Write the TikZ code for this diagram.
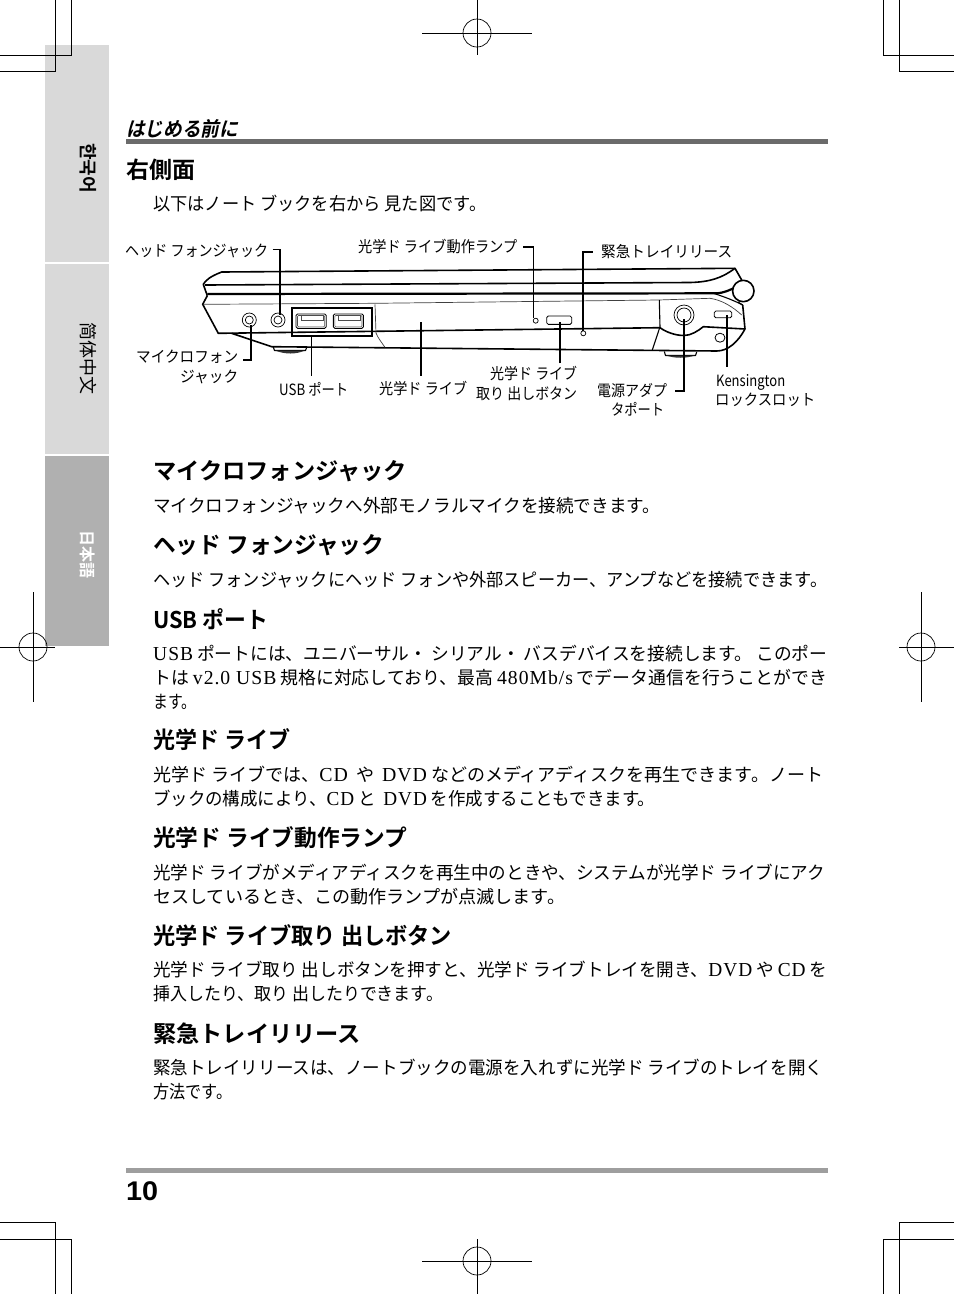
\documentclass[tikz,border=0pt]{standalone}
\usepackage{fontspec}
\usepackage{graphicx}
\setmainfont{Noto Sans CJK JP}
\newfontfamily\jpbold{Noto Sans CJK JP Bold}
\newfontfamily\jpslant[FakeSlant=0.22]{Noto Sans CJK JP Bold}
\newfontfamily\krbold{Noto Sans CJK KR Bold}
\newfontfamily\scfont{Noto Sans CJK SC}
\newfontfamily\latserif[Scale=1.1,LetterSpace=5]{Liberation Serif}
\newfontfamily\numbold{Liberation Sans}[BoldFont=Liberation Sans Bold]
\newcommand{\ls}[1]{{\latserif #1}}
\newcommand{\fitw}[2]{\resizebox{#1pt}{\height}{#2}}
% name, x-left, y-centre, width, text
\newcommand{\bodyline}[5]{\node[bodytext] (#1) at (#2,{#3+7.4}) {\fitw{#4}{#5}};}
\newcommand{\headline}[5]{\node[headtext] (#1) at (#2,{#3+9}) {\fitw{#4}{#5}};}
\newcommand{\labline}[5]{\node[labeltext] (#1) at (#2,{#3+6.4}) {\fitw{#4}{#5}};}
\tikzset{
  bodytext/.style={inner sep=0pt,anchor=base west,font=\fontsize{18}{18}\selectfont},
  headtext/.style={inner sep=0pt,anchor=base west,font=\fontsize{23}{23}\jpbold},
  labeltext/.style={inner sep=0pt,anchor=base west,font=\fontsize{15.5}{15.5}\selectfont},
  crop/.style={line width=1pt,black},
  reg/.style={line width=0.7pt,black},
  lapthick/.style={line width=1.6pt,black,line join=round},
  lapmid/.style={line width=1.1pt,black,line join=round},
  lapthin/.style={line width=0.7pt,black!75,line join=round},
  leaderthick/.style={line width=1.6pt,black},
  leaderthin/.style={line width=0.9pt,black},
  tabtext/.style={inner sep=0pt,rotate=-90,font=\fontsize{19}{19}\selectfont},
  jack/.style={circle,draw=black,line width=0.7pt,inner sep=0pt,fill=white},
}
\begin{document}
\begin{tikzpicture}[x=1pt,y=-1pt]
\useasboundingbox (0,0) rectangle (954,1294);
\fill[white] (0,0) rectangle (954,1294);
% side tabs
\fill[black!15] (45,45) rectangle (109,262);
\fill[black!15] (45,264) rectangle (109,454);
\fill[black!31] (45,456) rectangle (109,646);
\node[tabtext,font=\fontsize{18}{18}\krbold] (tabko) at (88,168) {한국어};
\node[tabtext,font=\fontsize{18}{18}\scfont] (tabzh) at (88,358) {简体中文};
\node[tabtext,font=\fontsize{16}{16}\jpbold,text=white] (tabja) at (88,554) {日本語};
% crop marks
\draw[crop] (71,0) -- (71,55) -- (0,55);
\draw[crop] (55,0) -- (55,71) -- (0,71);
\draw[crop] (883,0) -- (883,55) -- (954,55);
\draw[crop] (899,0) -- (899,71) -- (954,71);
\draw[crop] (0,1222) -- (55,1222) -- (55,1294);
\draw[crop] (0,1239) -- (71,1239) -- (71,1294);
\draw[crop] (954,1222) -- (899,1222) -- (899,1294);
\draw[crop] (954,1239) -- (883,1239) -- (883,1294);
% registration marks
\foreach \cx/\cy in {477/33,33/647,921/647,477/1261}{
  \draw[reg] (\cx,\cy) circle[radius=14];
}
\draw[crop] (422,33) -- (532,33);
\draw[crop] (477,0) -- (477,55);
\draw[crop] (422,1261) -- (532,1261);
\draw[crop] (477,1239) -- (477,1294);
\draw[crop] (0,647) -- (55,647);
\draw[crop] (33,592) -- (33,702);
\draw[crop] (899,647) -- (954,647);
\draw[crop] (921,592) -- (921,702);
% rules
\fill[black!58] (126,139) rectangle (828,144);
\fill[black!38] (126,1168) rectangle (828,1172.5);
% header
\node[inner sep=0pt,anchor=base west,font=\fontsize{20}{20}\jpslant] (chap) at (126,136) {\fitw{112}{はじめる前に}};
\headline{sect}{126}{169}{69}{右側面}
\bodyline{intro}{153}{203}{333}{以下はノート ブックを右から 見た図です。}
% laptop
\draw[lapthick] (207.3,295.7) -- (203.3,284.3) .. controls (206,280) and (210,276.5) .. (221.7,272) -- (735,268.3) -- (741.7,280);
\draw[lapthick] (205,285) -- (690,282.5) .. controls (710,282) and (722,278) .. (735,268.3);
\draw[line width=2.2pt,black] (207.3,294) -- (716,293.3) .. controls (724,293) and (730,290) .. (736.7,286.7);
\draw[lapmid] (738,302) -- (742.7,305);
\draw[lapthick] (207.3,295.7) -- (202.7,304.3) -- (218.3,333.3) -- (660,327.7)
  .. controls (666,332) and (675,335.5) .. (684,335.5) .. controls (691,335.5) and (698,331) .. (703.3,326.7) -- (745,329);
\draw[lapthick] (231.7,333.3) -- (271.7,346.7) -- (716.7,351) .. controls (728,351) and (738,342) .. (745,329) -- (742.7,305);
\draw[lapmid] (714,293.5) .. controls (725,297) and (735,301) .. (742.7,305);
\draw[lapthin] (203.3,304.3) -- (375,303.3) -- (658.3,300) -- (710,298.3) .. controls (722,300) and (733,307) .. (741.7,315);
\draw[lapthin] (375,304.3) -- (376,333) .. controls (378,338) and (382,343) .. (385,347.3);
\draw[lapmid] (659.3,300) -- (660,326.7) -- (652.3,350);
\fill[white] (743.3,291) circle[radius=10.7];
\draw[lapthick] (743.3,291) circle[radius=10.7];
% feet
\draw[lapmid] (273.3,347) -- (274.5,350.5) -- (305.5,350.5) -- (306.5,348);
\fill[black!80] (275,350.5) .. controls (285,354.5) and (296,354.5) .. (305,350.5) -- cycle;
\draw[lapmid] (664.3,351.5) -- (665.5,355.5) -- (695.5,355.5) -- (696.7,352);
\fill[black!80] (666,355.5) .. controls (675,358.5) and (686,358.5) .. (695,355.5) -- cycle;
% jacks
\node[jack,minimum size=14pt] (mic) at (249.3,320) {};
\node[jack,minimum size=8pt] (micin) at (249.3,320) {};
\node[jack,minimum size=14pt] (hp) at (278,320) {};
\node[jack,minimum size=8pt] (hpin) at (278,320) {};
% USB
\node[draw=black,line width=1.8pt,inner sep=0pt,minimum width=80.6pt,minimum height=27.7pt] (usb) at (332,322.2) {};
\foreach \ux in {296,333.3}{
  \draw[black,line width=0.9pt,rounded corners=1.5pt] (\ux,314) rectangle ++(30.2,14.3);
  \draw[black!70,line width=0.6pt,rounded corners=1pt] (\ux+1.5,315.5) rectangle ++(27.2,11.3);
  \draw[black!70,line width=0.6pt] (\ux+5,315.5) -- (\ux+5,320.5) -- (\ux+27,320.5) -- (\ux+27,315.5);
}
% drive details
\node[circle,draw=black,line width=0.7pt,inner sep=0pt,minimum size=5pt] (lamp) at (535.7,320.7) {};
\node[draw=black,line width=0.8pt,rounded corners=1.5pt,inner sep=0pt,minimum width=25pt,minimum height=8.3pt] (eject) at (559.2,320.2) {};
\node[circle,draw=black,line width=0.7pt,inner sep=0pt,minimum size=5pt] (emerg) at (583.3,333.3) {};
\node[jack,minimum size=20pt] (power) at (684,315) {};
\node[jack,minimum size=14pt] (powerin) at (684,315) {};
\node[draw=black,line width=0.8pt,rounded corners=1.5pt,inner sep=0pt,minimum width=17.4pt,minimum height=6.7pt] (kens) at (723,314.4) {};
\draw[line width=0.8pt,black] (720,337.7) ellipse[x radius=5,y radius=4.5];
% labels
\labline{lhp}{125}{250}{143}{ヘッド フォンジャック}
\labline{llamp}{358}{246}{159}{光学ド ライブ動作ランプ}
\labline{lem}{601}{251}{131}{緊急トレイリリース}
\labline{lmica}{136}{356}{102}{マイクロフォン}
\labline{lmicb}{180}{376}{58}{ジャック}
\labline{lusb}{279}{389}{69}{USB ポート}
\labline{lod}{379}{388}{88}{光学ド ライブ}
\labline{lej}{490}{373}{87}{光学ド ライブ}
\labline{lejb}{476}{393}{101}{取り 出しボタン}
\labline{lpw}{597}{390}{70}{電源アダプ}
\labline{lpwb}{611}{409}{53}{タポート}
\labline{lke}{716}{380}{69}{Kensington}
\labline{lkeb}{715}{399}{100}{ロックスロット}
% leader lines
\coordinate (hpe) at (272.7,249.3);
\coordinate (hpt) at (280,315);
\draw[leaderthick] (hpe) -| (hpt);
\coordinate (mice) at (243.3,360);
\coordinate (mict) at (250.7,325);
\draw[leaderthick] (mice) -| (mict);
\coordinate (usbe) at (311.7,375.7);
\coordinate (usbt) at (311.7,336);
\draw[leaderthin] (usbe) -- (usbt);
\coordinate (ode) at (421,375.7);
\coordinate (odt) at (421,322.3);
\draw[line width=1.3pt] (ode) -- (odt);
\coordinate (lampe) at (523,247);
\coordinate (lampt) at (533.3,318);
\draw[leaderthick] (lampe) -| (lampt);
\coordinate (eme) at (592.7,251.7);
\coordinate (emt) at (582.7,331);
\draw[leaderthick] (eme) -| (emt);
\coordinate (eje) at (560,363.3);
\coordinate (ejt) at (560,321.7);
\draw[leaderthick] (eje) -- (ejt);
\coordinate (pwe) at (675,391);
\coordinate (pwt) at (684,319);
\draw[leaderthick] (pwe) -| (pwt);
\coordinate (kee) at (727,366.7);
\coordinate (ket) at (727,315);
\draw[leaderthick] (kee) -- (ket);
% sections
\headline{h1}{153}{470}{254}{マイクロフォンジャック}
\bodyline{b1}{153}{505}{507}{マイクロフォンジャックへ外部モノラルマイクを接続できます。}
\headline{h2}{153}{544}{231}{ヘッド フォンジャック}
\bodyline{b2}{153}{579}{674}{ヘッド フォンジャックにヘッド フォンや外部スピーカー、アンプなどを接続できます。}
\headline{h3}{153}{619}{115}{USB ポート}
\bodyline{b3a}{153}{653}{674}{\ls{USB} ポートには、ユニバーサル・ シリアル・ バスデバイスを接続します。 このポー}
\bodyline{b3b}{153}{677}{674}{トは \ls{v2.0 USB} 規格に対応しており、最高 \ls{480Mb/s} でデータ通信を行うことができ}
\bodyline{b3c}{153}{701}{43}{ます。}
\headline{h4}{153}{739}{137}{光学ド ライブ}
\bodyline{b4a}{153}{774}{670}{光学ド ライブでは、\ls{CD}\ \ や\ \ \ls{DVD} などのメディアディスクを再生できます。ノート}
\bodyline{b4b}{153}{798}{502}{ブックの構成により、\ls{CD} と\ \ \ls{DVD} を作成することもできます。}
\headline{h5}{153}{837}{254}{光学ド ライブ動作ランプ}
\bodyline{b5a}{153}{872}{672}{光学ド ライブがメディアディスクを再生中のときや、システムが光学ド ライブにアク}
\bodyline{b5b}{153}{896}{412}{セスしているとき、この動作ランプが点滅します。}
\headline{h6}{153}{935}{299}{光学ド ライブ取り 出しボタン}
\bodyline{b6a}{153}{969}{674}{光学ド ライブ取り 出しボタンを押すと、光学ド ライブトレイを開き、\ls{DVD} や \ls{CD} を}
\bodyline{b6b}{153}{993}{290}{挿入したり、取り 出したりできます。}
\headline{h7}{153}{1033}{208}{緊急トレイリリース}
\bodyline{b7a}{153}{1067}{670}{緊急トレイリリースは、ノートブックの電源を入れずに光学ド ライブのトレイを開く}
\bodyline{b7b}{153}{1091}{79}{方法です。}
\node[inner sep=0pt,anchor=base west,font=\fontsize{27}{27}\numbold\bfseries] (pageno) at (126,1200.5) {\fitw{32}{10}};
\end{tikzpicture}
\end{document}
